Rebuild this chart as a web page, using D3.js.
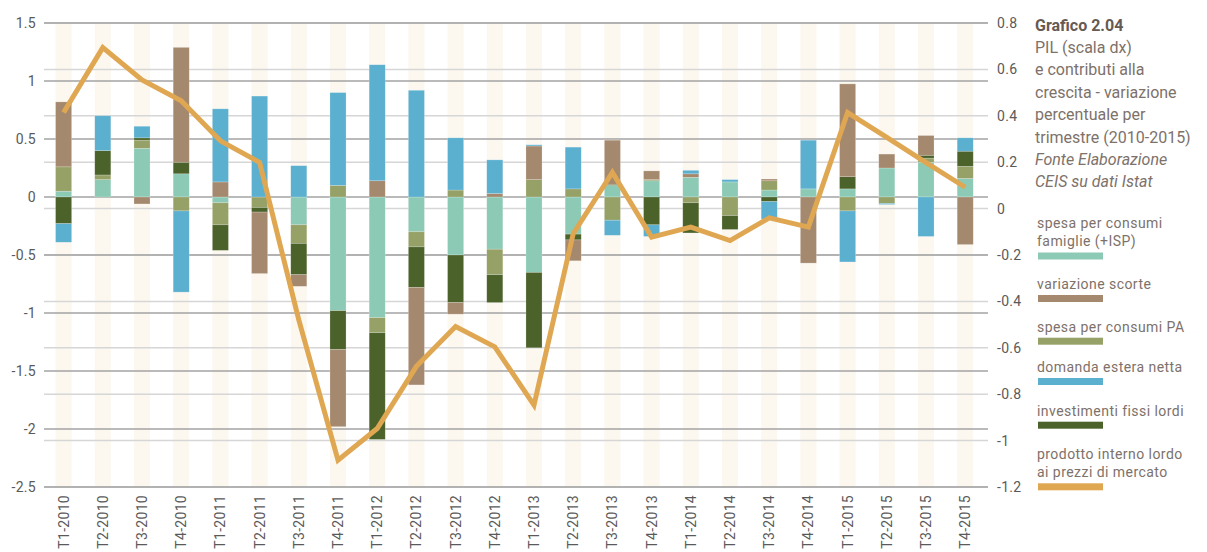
<!DOCTYPE html>
<html>
<head>
<meta charset="utf-8">
<script src="https://cdn.jsdelivr.net/npm/d3@7"></script>
<style>
  body { margin: 0; background: #fff; }
  svg { font-family: Roboto, "Open Sans", sans-serif; }
  .tick-label { font-size: 14px; fill: #5a5a5a; letter-spacing: 0.3px; }
  .side-text { font-size: 16px; fill: #7d716a; }
  .legend-text { font-size: 14px; fill: #7d716a; letter-spacing: 0.45px; }
</style>
</head>
<body>
<div id="chart"></div>
<script>

/////////////////////////////////////////////////////////////////////////////
                      ///////    Data    ///////
/////////////////////////////////////////////////////////////////////////////

var quarters = ["T1-2010","T2-2010","T3-2010","T4-2010","T1-2011","T2-2011","T3-2011","T4-2011",
                "T1-2012","T2-2012","T3-2012","T4-2012","T1-2013","T2-2013","T3-2013","T4-2013",
                "T1-2014","T2-2014","T3-2014","T4-2014","T1-2015","T2-2015","T3-2015","T4-2015"];

var famiglie     = [0.05, 0.15, 0.42, 0.20, -0.05, 0, -0.24, -0.98, -1.04, -0.30, -0.50, -0.45,
                    -0.65, -0.32, 0.10, 0.14, 0.17, 0.13, 0.06, 0.07, 0.07, 0.25, 0.30, 0.16];
var spesaPA      = [0.21, 0.04, 0.07, -0.12, -0.19, -0.09, -0.16, 0.10, -0.13, -0.13, 0.06, -0.22,
                    0.15, 0.07, -0.20, 0.01, -0.05, -0.16, 0.08, 0, -0.12, -0.055, 0.035, 0.105];
var investimenti = [-0.23, 0.21, 0.02, 0.10, -0.22, -0.04, -0.27, -0.335, -0.92, -0.35, -0.41, -0.24,
                    -0.65, -0.05, 0.01, -0.24, -0.26, -0.12, -0.04, 0, 0.105, 0, 0.025, 0.13];
var scorte       = [0.56, 0, -0.06, 0.99, 0.13, -0.53, -0.10, -0.665, 0.14, -0.84, -0.10, 0.03,
                    0.29, -0.18, 0.38, 0.075, 0.03, 0, 0.015, -0.57, 0.80, 0.12, 0.17, -0.41];
var estera       = [-0.16, 0.30, 0.10, -0.70, 0.63, 0.87, 0.27, 0.80, 1.00, 0.92, 0.45, 0.29,
                    0.01, 0.36, -0.13, -0.10, 0.03, 0.02, -0.15, 0.42, -0.44, -0.01, -0.34, 0.115];
var pil          = [0.414, 0.694, 0.555, 0.465, 0.292, 0.199, -0.48, -1.084, -0.948, -0.68, -0.508, -0.596,
                    -0.847, -0.108, 0.156, -0.123, -0.08, -0.138, -0.04, -0.08, 0.414, 0.307, 0.198, 0.092];

var leftTicks  = [1.5, 1, 0.5, 0, -0.5, -1, -1.5, -2, -2.5];
var rightTicks = [0.8, 0.6, 0.4, 0.2, 0, -0.2, -0.4, -0.6, -0.8, -1, -1.2];

var titleLines  = ["PIL (scala dx)", "e contributi alla", "crescita - variazione", "percentuale per", "trimestre (2010-2015)"];
var sourceLines = ["Fonte Elaborazione", "CEIS su dati Istat"];

// stacking order (bottom to top) differs from legend order
var stackKeys = ["famiglie", "spesaPA", "investimenti", "scorte", "estera"];
var seriesColor = {
    famiglie: "#8ccab6", scorte: "#a5896e", spesaPA: "#95a167",
    estera: "#5bafcf", investimenti: "#4b622b", pil: "#e0a752"
};
var legendItems = [
    {key: "famiglie",     lines: ["spesa per consumi", "famiglie (+ISP)"]},
    {key: "scorte",       lines: ["variazione scorte"]},
    {key: "spesaPA",      lines: ["spesa per consumi PA"]},
    {key: "estera",       lines: ["domanda estera netta"]},
    {key: "investimenti", lines: ["investimenti fissi lordi"]},
    {key: "pil",          lines: ["prodotto interno lordo", "ai prezzi di mercato"]}
];

/////////////////////////////////////////////////////////////////////////////
                      ///////    Scales    ///////
/////////////////////////////////////////////////////////////////////////////

var w = 1207, h = 552;
var plotLeft = 44, plotRight = 984.8, plotTop = 23, plotBottom = 487;

var svg = d3.select("#chart").append("svg").attr("width", w).attr("height", h);

var x = d3.scaleBand().domain(quarters).range([plotLeft, plotRight]).paddingInner(0.59).paddingOuter(0.295);
var yL = d3.scaleLinear().domain([-2.5, 1.5]).range([plotBottom, plotTop]);
var yR = d3.scaleLinear().domain([-1.2, 0.8]).range([plotBottom, plotTop]);

var rows = quarters.map((q, i) => ({
    q: q, famiglie: famiglie[i], spesaPA: spesaPA[i], investimenti: investimenti[i],
    scorte: scorte[i], estera: estera[i]
}));
var stacked = d3.stack().keys(stackKeys).offset(d3.stackOffsetDiverging)(rows);

/////////////////////////////////////////////////////////////////////////////
                      ///////    Background    ///////
/////////////////////////////////////////////////////////////////////////////

svg.append("g").selectAll("rect").data(quarters).join("rect")
    .attr("x", d => x(d)).attr("width", x.bandwidth())
    .attr("y", plotTop).attr("height", plotBottom - plotTop)
    .attr("fill", "#fcf8f0");

// light gridlines follow the right axis, darker ones the left axis
svg.append("g").selectAll("line").data(rightTicks).join("line")
    .attr("x1", plotLeft).attr("x2", 988)
    .attr("y1", d => yR(d)).attr("y2", d => yR(d))
    .attr("stroke", "#d6d6d6").attr("stroke-width", 1.5);

svg.append("g").selectAll("line").data(leftTicks).join("line")
    .attr("x1", plotLeft).attr("x2", 988)
    .attr("y1", d => yL(d)).attr("y2", d => yL(d))
    .attr("stroke", "#a3a3a3").attr("stroke-width", 1.5);

/////////////////////////////////////////////////////////////////////////////
                      ///////    Bars and line    ///////
/////////////////////////////////////////////////////////////////////////////

svg.append("g").selectAll("g").data(stacked).join("g")
    .attr("fill", s => seriesColor[s.key])
    .selectAll("rect").data(s => s).join("rect")
    .attr("x", d => x(d.data.q)).attr("width", x.bandwidth())
    .attr("y", d => yL(Math.max(d[0], d[1])))
    .attr("height", d => Math.abs(yL(d[0]) - yL(d[1])))
    .attr("stroke", "#ffffff").attr("stroke-opacity", 0.35).attr("stroke-width", 0.6);

var line = d3.line()
    .x((d, i) => x(quarters[i]) + x.bandwidth() / 2)
    .y(d => yR(d));

svg.append("path").datum(pil)
    .attr("d", line)
    .attr("fill", "none")
    .attr("stroke", seriesColor.pil)
    .attr("stroke-width", 5);

/////////////////////////////////////////////////////////////////////////////
                      ///////    Axes    ///////
/////////////////////////////////////////////////////////////////////////////

svg.append("g").selectAll("text").data(leftTicks).join("text")
    .attr("class", "tick-label")
    .attr("x", 36).attr("y", d => yL(d)).attr("dy", "0.35em")
    .attr("text-anchor", "end")
    .text(d => String(d));

svg.append("g").selectAll("text").data(rightTicks).join("text")
    .attr("class", "tick-label")
    .attr("x", 997).attr("y", d => yR(d)).attr("dy", "0.35em")
    .text(d => String(d));

svg.append("g").selectAll("text").data(quarters).join("text")
    .attr("class", "tick-label")
    .attr("transform", d => "translate(" + (x(d) + x.bandwidth() / 2) + ",495) rotate(-90)")
    .attr("dy", "0.35em")
    .attr("text-anchor", "end")
    .text(d => d);

/////////////////////////////////////////////////////////////////////////////
                      ///////    Title and legend    ///////
/////////////////////////////////////////////////////////////////////////////

var tx = 1035, lineH = 22.4;

svg.append("text").attr("class", "side-text")
    .attr("x", tx).attr("y", 25).attr("dy", "0.35em")
    .style("font-weight", "bold").style("fill", "#665a52")
    .text("Grafico 2.04");

svg.append("g").selectAll("text").data(titleLines).join("text")
    .attr("class", "side-text")
    .attr("x", tx).attr("y", (d, i) => 25 + (i + 1) * lineH).attr("dy", "0.35em")
    .text(d => d);

svg.append("g").selectAll("text").data(sourceLines).join("text")
    .attr("class", "side-text")
    .attr("x", tx).attr("y", (d, i) => 25 + (titleLines.length + 1 + i) * lineH).attr("dy", "0.35em")
    .style("font-style", "italic")
    .text(d => d);

var swatchY = [252.5, 295, 337.7, 378, 421.7, 483.3];

var legend = svg.append("g").selectAll("g").data(legendItems).join("g")
    .attr("transform", (d, i) => "translate(" + 1038 + "," + swatchY[i] + ")");

legend.append("rect")
    .attr("width", 65).attr("height", 7)
    .attr("fill", d => seriesColor[d.key]);

legend.selectAll("text").data(d => d.lines.map((t, j) => ({t: t, j: j, n: d.lines.length}))).join("text")
    .attr("class", "legend-text")
    .attr("x", -1)
    .attr("y", d => -11 - (d.n - 1 - d.j) * 18.5)
    .attr("dy", "0.35em")
    .text(d => d.t);

</script>
</body>
</html>
